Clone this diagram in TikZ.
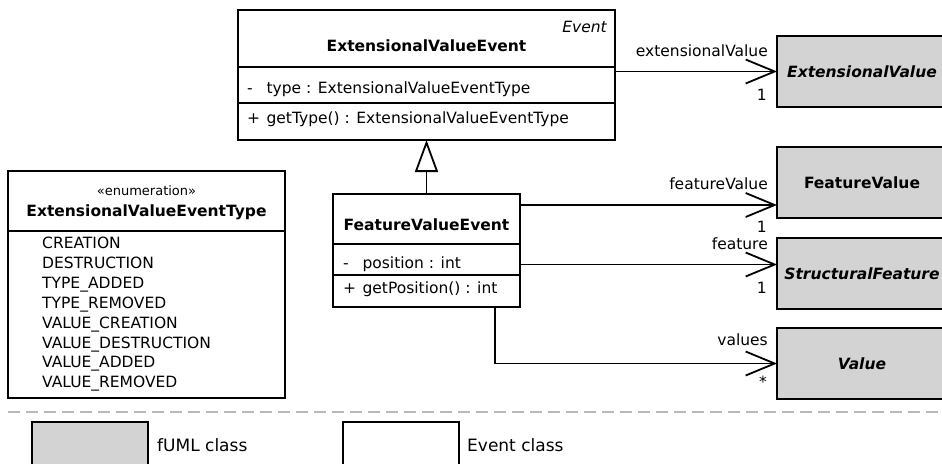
\documentclass[tikz,border=0pt]{standalone}
\usepackage{fontspec}
\setmainfont{DejaVu Sans}
\usetikzlibrary{arrows.meta,positioning,calc}

\definecolor{fumlgray}{RGB}{211,211,211}
\definecolor{rulegray}{RGB}{185,185,185}
\newcommand{\umlfont}{\fontsize{15.5}{19.83}\selectfont}
\newcommand{\vis}[1]{\makebox[1.25em][l]{#1}}

\tikzset{
  compart/.style={draw, line width=1.8pt, inner sep=0pt, outer sep=0pt, anchor=north west},
  fumlclass/.style={compart, fill=fumlgray, minimum width=170pt, minimum height=71pt,
    font=\umlfont\bfseries},
  member/.style={anchor=base west, inner sep=0pt},
  role/.style={anchor=base east, inner sep=0pt},
  assoc/.style={line width=1.8pt, -{Straight Barb[length=29pt,width=24pt]}},
  inherit/.style={line width=1.8pt, -{Triangle[open,length=32pt,width=23pt,fill=white]}},
}

\begin{document}
\begin{tikzpicture}[x=1pt,y=-1pt,font=\umlfont]
  \useasboundingbox (0,0) rectangle (942,463);
  % Event classes
  \node[compart, minimum width=377pt, minimum height=57pt] (evhead) at (238,10) {};
  \node[compart, minimum width=377pt, minimum height=36pt] (evattr) at (evhead.south west) {};
  \node[compart, minimum width=377pt, minimum height=37pt] (evop) at (evattr.south west) {};
  \node[compart, minimum width=187pt, minimum height=50pt] (fvehead) at (333,194) {};
  \node[compart, minimum width=187pt, minimum height=31pt] (fveattr) at (fvehead.south west) {};
  \node[compart, minimum width=187pt, minimum height=32pt] (fveop) at (fveattr.south west) {};
  \node[compart, minimum width=277pt, minimum height=60pt] (enumhead) at (8,171) {};
  \node[compart, minimum width=277pt, minimum height=167pt] (enumbody) at (enumhead.south west) {};
  % fUML classes
  \node[fumlclass] (extval) at (777,36) {\itshape ExtensionalValue};
  \node[fumlclass] (featval) at (777,147) {FeatureValue};
  \node[fumlclass] (structfeat) at (777,238) {\itshape StructuralFeature};
  \node[fumlclass] (value) at (777,328) {\itshape Value};
  % Texts
  \node[anchor=base east, inner sep=0pt, font=\umlfont\itshape] (evstereo) at (607,32.3) {Event};
  \node[anchor=base, inner sep=0pt, font=\umlfont\bfseries] (evname) at (426.5,51.7) {ExtensionalValueEvent};
  \node[member] (evtype) at (247,93.3) {\vis{-}type : ExtensionalValueEventType};
  \node[member] (evget) at (247,123.3) {\vis{+}getType() : ExtensionalValueEventType};
  \node[anchor=base, inner sep=0pt, font=\umlfont\bfseries] (fvename) at (426.5,230) {FeatureValueEvent};
  \node[member] (fvepos) at (343,268) {\vis{-}position : int};
  \node[member] (fveget) at (343,293) {\vis{+}getPosition() : int};
  \node[anchor=base, inner sep=0pt, font=\fontsize{13}{16}\selectfont] (enumstereo) at (146.5,195) {«enumeration»};
  \node[anchor=base, inner sep=0pt, font=\umlfont\bfseries] (enumname) at (146.5,216.7) {ExtensionalValueEventType};
  \node[anchor=north west, inner sep=0pt, align=left] (enumlits) at (42,237.2)
    {CREATION\\DESTRUCTION\\TYPE\_ADDED\\TYPE\_REMOVED\\VALUE\_CREATION\\VALUE\_DESTRUCTION\\VALUE\_ADDED\\VALUE\_REMOVED};
  % Ways
  \coordinate (fvefrom) at ($(fvehead.north east)+(0,11)$);
  \coordinate (sffrom) at ($(fveattr.east)+(0,5)$);
  \coordinate (valfrom) at ($(fveop.south east)+(-25,0)$);
  \draw[inherit] (fvehead.north) -- (evop.south);
  \draw[assoc] (evattr.east |- extval.west) -- (extval.west);
  \draw[assoc] (fvefrom) -- (fvefrom -| featval.west);
  \draw[assoc] (sffrom) -- (sffrom -| structfeat.west);
  \draw[assoc] (valfrom) |- (value.west);
  % Labels
  \node[role] (extrole) at (768,56) {extensionalValue};
  \node[role] (extmult) at (767,100.5) {1};
  \node[role] (fvrole) at (768,189) {featureValue};
  \node[role] (fvmult) at (767,232.5) {1};
  \node[role] (sfrole) at (768,249) {feature};
  \node[role] (sfmult) at (767,293) {1};
  \node[role] (valrole) at (768,345) {values};
  \node[role] (valmult) at (767,387) {*};
  % Legend
  \draw[rulegray, line width=1.5pt, dash pattern=on 12pt off 6pt] (8,412) -- (942,412);
  \node[compart, fill=fumlgray, minimum width=116pt, minimum height=60pt] (keyfuml) at (32,422) {};
  \node[anchor=west, inner sep=0pt, font=\fontsize{17}{20}\selectfont] (keyfumltext) at (157,445) {fUML class};
  \node[compart, minimum width=116pt, minimum height=60pt] (keyevent) at (343,422) {};
  \node[anchor=west, inner sep=0pt, font=\fontsize{17}{20}\selectfont] (keyeventtext) at (467,445) {Event class};
\end{tikzpicture}
\end{document}
